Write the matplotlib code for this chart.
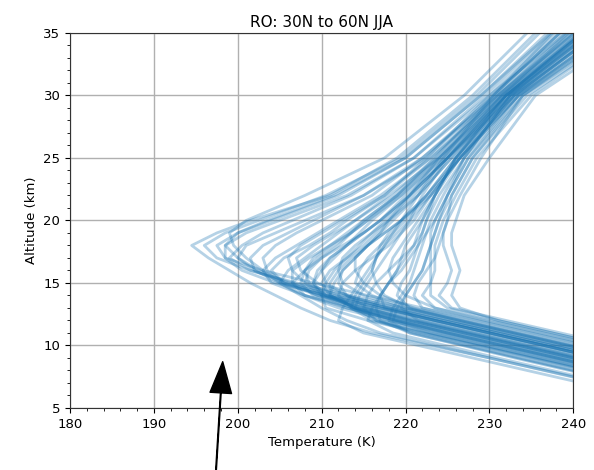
import matplotlib
matplotlib.use("Agg")
import matplotlib.pyplot as plt
from matplotlib.ticker import MultipleLocator

# Altitude levels (km) of the profiles
alt_km = [6, 9, 11, 12, 13, 14, 15, 16, 17, 18, 19, 20, 22, 25, 30, 36]

# Temperature profiles (K), one row per profile
high_trop = [
    [250, 230, 216, 211, 207.5, 204.5, 201.5, 199, 196.5, 194.5, 197.5, 201.5, 211, 219, 228, 237],
    [267, 248, 235, 228.5, 222, 215.5, 209, 203, 198.5, 197.5, 200, 204, 212, 220, 229, 239],
    [264, 245, 232, 225.5, 219, 212.5, 206.5, 201.5, 199, 200.5, 203, 206.5, 213.5, 221, 230, 241],
    [262, 243, 230, 223.5, 217, 210.5, 205, 202, 201.5, 203, 206, 209, 215, 222, 231, 242],
    [259, 240, 227, 220.5, 214, 208, 204, 203, 204.5, 207, 209.5, 212, 217, 223, 231.5, 243],
    [263, 244, 231, 224.5, 218, 211.5, 205.5, 202, 200, 201, 204.5, 208, 215, 222.5, 230.5, 240],
    [258, 238.5, 225.5, 219, 213, 208, 205, 206, 208, 210, 212, 214, 218, 224, 232, 244],
    [260, 241.5, 228.5, 222, 215.5, 209.5, 205.5, 204, 205.5, 208.5, 211, 213, 217.5, 222.5, 230, 239.5],
    [265, 246, 233, 226.5, 220, 213.5, 207, 201.5, 197.5, 196, 198.5, 202.5, 210.5, 219.5, 228.5, 237.5],
    [257, 237.5, 224.5, 218, 212, 208, 206.5, 208, 210, 212.5, 215, 217, 220, 225, 233, 245],
    [262.5, 243, 230, 223.5, 217, 211, 206, 202.5, 200, 198.5, 200, 203.5, 211.5, 220, 229, 238.5],
    [258.5, 239, 226, 219.5, 214, 210.5, 209, 209.5, 211, 213, 214.5, 216, 219.5, 224.5, 232, 243.5],
    [263, 244, 231, 224.5, 218.5, 213, 209.5, 207.5, 207, 209, 211.5, 214, 218.5, 223.5, 231, 241.5],
]
fan_trop = [
    [262, 243, 230, 223.5, 217.5, 213, 210.5, 210, 211, 213, 215, 217, 220.5, 225, 232, 243],
    [264, 245, 232, 225.5, 219.5, 215, 212.5, 212, 212.5, 214, 216, 218, 221.5, 225.5, 232.5, 244],
    [266, 246.5, 233.5, 227, 221, 217, 215, 214, 214, 215.5, 217.5, 219.5, 223, 226.5, 233, 245],
    [259, 240, 227, 220.5, 215.5, 213, 212, 212.5, 214, 215.5, 217, 218.5, 221.5, 225.5, 232, 242.5],
    [263, 244, 231, 224.5, 218, 212, 208, 206.5, 206, 207.5, 210, 212.5, 217.5, 223, 231, 240.5],
    [268, 249, 236, 229.5, 223.5, 220, 218.5, 218, 218.5, 219.5, 220.5, 221.5, 223.5, 226.5, 233, 245],
    [257.5, 238, 225, 219, 213, 209, 207.5, 208, 209.5, 211.5, 213.5, 215.5, 219.5, 224.5, 231.5, 241.5],
    [261, 242, 229, 222.5, 216, 210, 205.5, 203.5, 203, 204.5, 207, 210, 216, 222, 230.5, 240],
    [266, 246, 233, 226.5, 220.5, 217.5, 216.5, 216, 216.5, 217.5, 219, 220.5, 223, 226.5, 233, 244.5],
    [262.5, 243, 230, 223.5, 217, 210.5, 204.5, 200.5, 198.5, 198.5, 201, 205, 213, 221, 229.5, 239],
    [254.5, 235, 222, 215.5, 210.5, 210, 210.5, 211.5, 213, 214.5, 216, 217.5, 220.5, 225, 232, 243],
    [270, 250.5, 237.5, 231, 225, 223, 223, 223, 223, 223, 223.5, 224, 225.5, 228, 234, 246.5],
    [259.5, 240.5, 227.5, 221, 215, 210.5, 208.5, 208, 209, 211, 213, 215, 219, 224, 231, 241],
    [265, 245.5, 232.5, 226, 220, 216, 214, 214.5, 215.5, 217, 218.5, 220, 222.5, 226, 232.5, 244],
]
mid_trop = [
    [256, 237, 224, 218, 214, 211, 211.5, 212.5, 214, 215.5, 217, 218, 220.5, 224, 231.5, 242],
    [257.5, 238, 225, 219, 213.5, 210, 209, 210, 211.5, 213, 215, 217, 220.5, 225, 232.5, 244.5],
    [255, 235.5, 222.5, 216.5, 214, 214.5, 215.5, 216.5, 217.5, 218.5, 219.5, 220.5, 222, 225, 232, 242.5],
    [253, 233.5, 221, 216.5, 215, 215.5, 216.5, 218, 219.5, 221, 222, 222.5, 223.5, 226, 232.5, 244],
    [258.5, 239, 226, 219.5, 214, 211, 210, 211, 213, 215, 216.5, 218, 221, 225, 231.5, 241],
    [255.5, 236, 223, 217, 213.5, 212, 212.5, 214, 216, 218, 219.5, 221, 223, 226.5, 233.5, 246],
    [259, 240, 227, 220.5, 214.5, 210, 208, 208.5, 210, 212, 213.5, 215, 219, 223.5, 230.5, 239],
    [254.5, 235, 222, 216, 213.5, 214, 215, 216, 216.5, 217, 218, 219.5, 222.5, 226, 233, 245],
    [257, 237.5, 224.5, 218.5, 214, 211, 211, 212, 213.5, 215.5, 217.5, 219.5, 222.5, 226.5, 233.5, 246.5],
    [259.5, 240.5, 227.5, 221, 215, 209.5, 206.5, 206.5, 208.5, 211, 213.5, 215.5, 219, 224, 231.5, 242],
    [252.5, 233, 220.5, 217, 216.5, 217, 218, 219, 219.5, 220, 221, 222, 223.5, 226, 232, 243],
]
low_trop = [
    [271, 251.5, 238.5, 232, 225.5, 224, 225, 225.5, 225, 224.5, 224.5, 225, 226.5, 229, 234, 247],
    [269, 249.5, 236.5, 230, 223.5, 222, 223, 223.5, 223.5, 223.5, 224, 224.5, 226, 228.5, 235, 248],
    [266, 246.5, 233.5, 227, 220.5, 219, 219.5, 220.5, 221, 221.5, 222, 222.5, 224, 227, 233.5, 245.5],
    [262.5, 243, 230, 223.5, 217.5, 217, 218, 219.5, 220.5, 221.5, 222.5, 223.5, 225, 227, 232.5, 243],
    [260.5, 241, 228, 221.5, 219.5, 220, 221, 222, 222.5, 223, 223, 223.5, 225, 227.5, 234, 247.5],
    [267.5, 248, 235, 228.5, 222, 221, 221.5, 222.5, 223.5, 224, 224.5, 225, 225.5, 228, 234.5, 248],
    [253, 233.5, 220.5, 218, 218.5, 219.5, 220.5, 221, 221.5, 222, 222.5, 223, 224.5, 227, 232.5, 243.5],
    [250.5, 231, 218.5, 215.5, 216, 217, 218, 219, 220, 221, 221.5, 222, 223.5, 226, 232, 242.5],
    [247.5, 228, 215, 212, 212.5, 213.5, 214.5, 215.5, 216.5, 217.5, 218.5, 219.5, 221.5, 224.5, 230.5, 240],
    [270, 250.5, 237.5, 231, 226.5, 225.5, 226, 226.5, 226, 225.5, 225.5, 226, 227, 230, 235.5, 249],
    [255.5, 236, 223, 218.5, 219, 220, 221, 222, 222.5, 223, 223.5, 224, 225, 227.5, 233.5, 246],
    [249.5, 230, 217, 213, 210, 207.5, 205, 203, 201, 199.5, 199, 201, 208, 217.5, 227, 236],
]

title = "RO: 30N to 60N JJA"
x_ticks = [180, 190, 200, 210, 220, 230, 240]
y_ticks = [5, 10, 15, 20, 25, 30, 35]

fig = plt.figure(figsize=(5.94, 4.70), dpi=100)
ax = fig.add_axes([0.118, 0.132, 0.847, 0.798])

for group in (high_trop, fan_trop, mid_trop, low_trop):
    for prof in group:
        ax.plot(prof, alt_km, color="#1f77b4", alpha=0.33, lw=2.0,
                solid_joinstyle="round")

ax.set_xlim(180, 240)
ax.set_ylim(5, 35)
ax.set_xticks(x_ticks)
ax.set_yticks(y_ticks)
ax.xaxis.set_minor_locator(MultipleLocator(2))
ax.yaxis.set_minor_locator(MultipleLocator(1))
ax.grid(True, which="major", color="#b0b0b0", lw=1)
ax.set_axisbelow(True)
ax.tick_params(labelsize=9.5)
ax.set_xlabel("Temperature (K)", fontsize=9.5)
ax.set_ylabel("Altitude (km)", fontsize=9.5)
ax.set_title(title, fontsize=11, pad=4)
for s in ax.spines.values():
    s.set_color("#333333")

ax.annotate("", xy=(198.2, 8.7), xytext=(197.4, 0.0),
            arrowprops=dict(facecolor="black", edgecolor="black", width=0.5,
                            headwidth=15.5, headlength=22.5, shrink=0.0),
            annotation_clip=False)

fig.savefig("out.png", dpi=100)
